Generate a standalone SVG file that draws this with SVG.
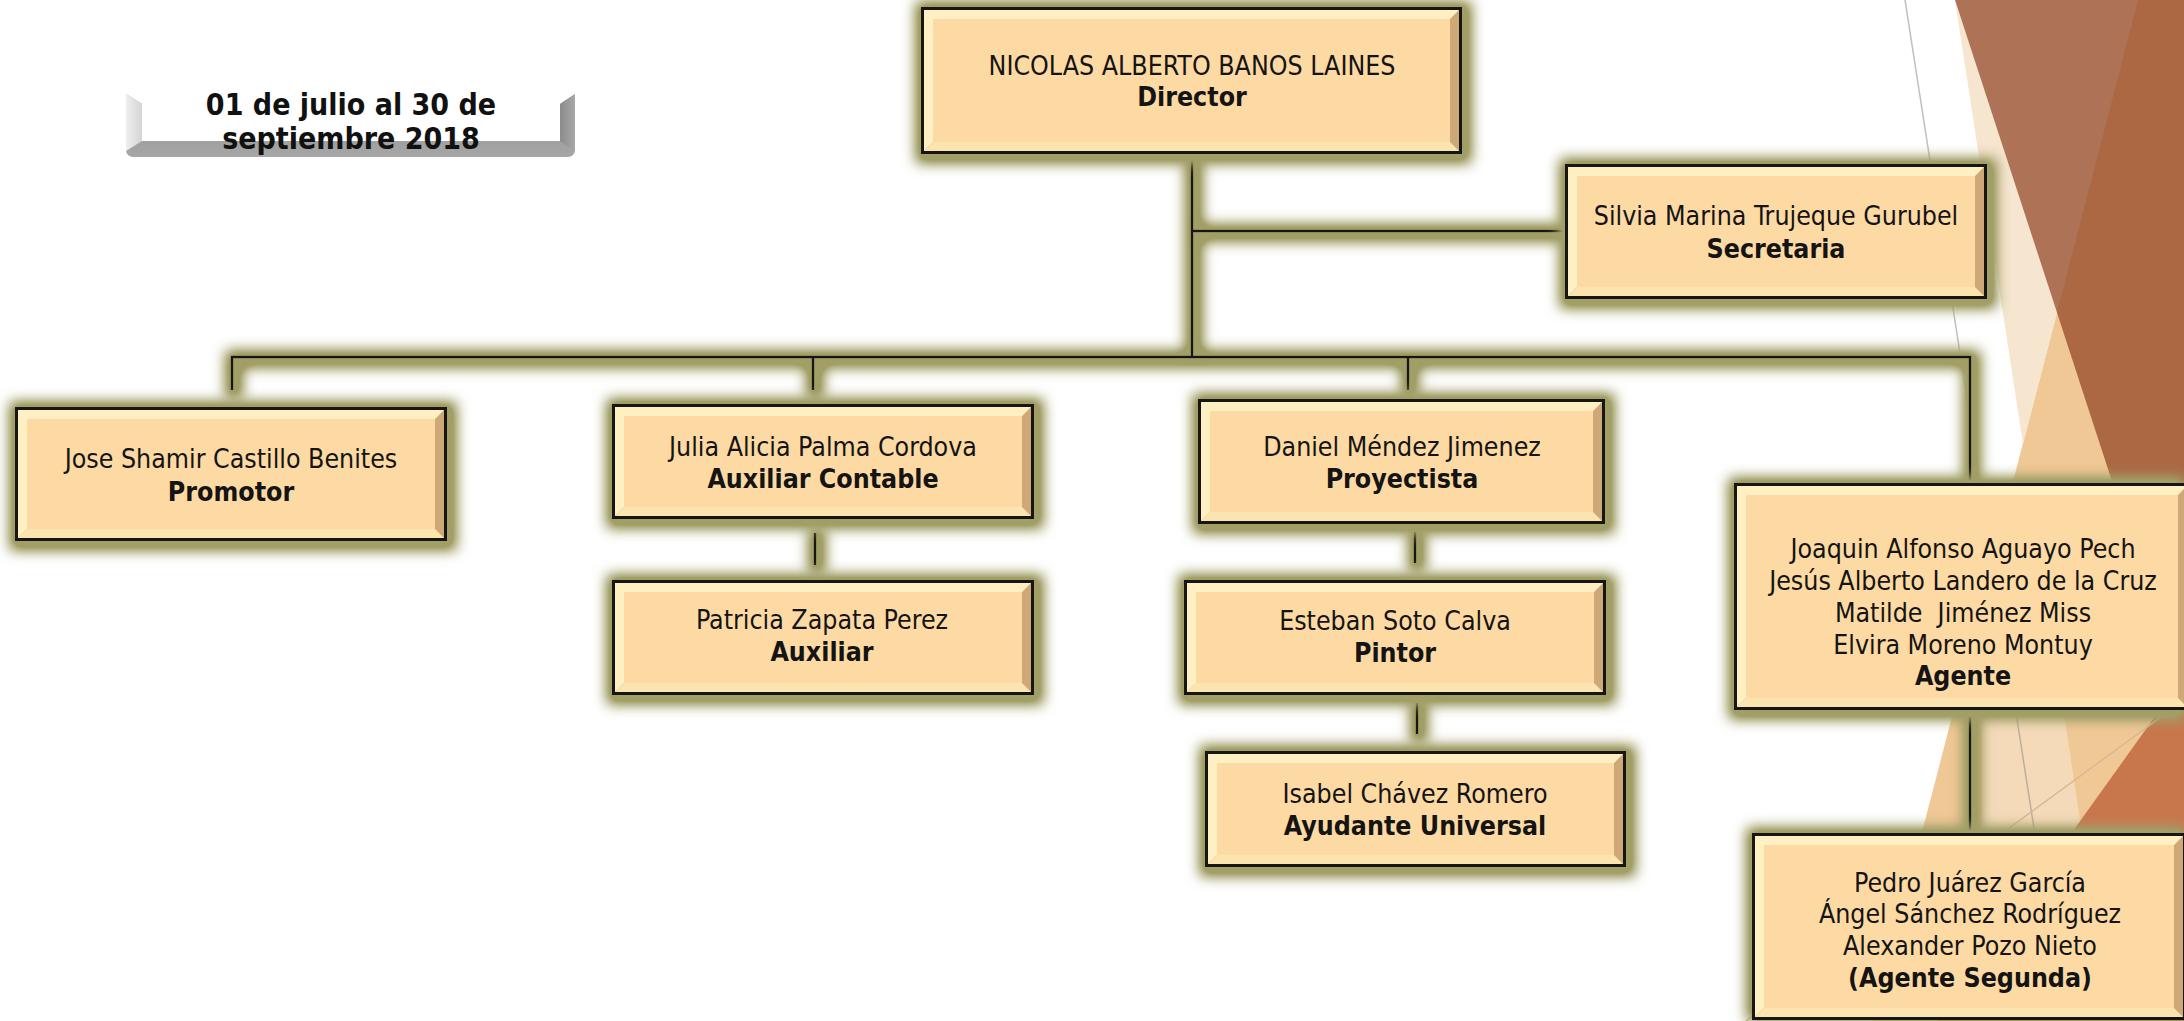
<svg xmlns="http://www.w3.org/2000/svg" width="2184" height="1021" viewBox="0 0 2184 1021">
<defs>
<style>
.t{font-family:'DejaVu Sans Condensed','DejaVu Sans',sans-serif;font-stretch:condensed;font-size:26.5px;fill:#141414;text-anchor:middle}
.b{font-weight:bold}
.d{font-family:'DejaVu Sans Condensed','DejaVu Sans',sans-serif;font-stretch:condensed;font-weight:bold;font-size:30px;fill:#111;text-anchor:middle}
.frame{fill:#161616}
.base{fill:#CFA877}
.tl{fill:#FFF0C4}
.bb{fill:#FBE4B0}
.face{fill:#FDDAA3}
.con{stroke:#151515;stroke-width:2.5;fill:none}
</style>
<filter id="glow" filterUnits="userSpaceOnUse" x="0" y="0" width="2184" height="1021">
<feMorphology in="SourceAlpha" operator="dilate" radius="7" result="d"/>
<feOffset in="d" dx="2" dy="2" result="o"/>
<feGaussianBlur in="o" stdDeviation="7" result="bl"/>
<feComponentTransfer in="bl" result="bl2"><feFuncA type="linear" slope="1.5"/></feComponentTransfer>
<feFlood flood-color="#A19E66" flood-opacity="1"/>
<feComposite in2="bl2" operator="in" result="g"/>
<feMerge><feMergeNode in="g"/><feMergeNode in="SourceGraphic"/></feMerge>
</filter>
<linearGradient id="gL" x1="0" y1="0" x2="1" y2="0">
<stop offset="0" stop-color="#EFEFEF"/><stop offset="1" stop-color="#D4D4D4"/>
</linearGradient>
<linearGradient id="gR" x1="0" y1="0" x2="1" y2="0">
<stop offset="0" stop-color="#8C8C8C"/><stop offset="1" stop-color="#A8A8A8"/>
</linearGradient>
<linearGradient id="gB" x1="0" y1="0" x2="0" y2="1">
<stop offset="0" stop-color="#8E8E8E"/><stop offset="1" stop-color="#A6A6A6"/>
</linearGradient>
</defs>

<g id="background">
<rect x="0" y="0" width="2184" height="1021" fill="#FFFFFF"/>
<polygon points="2138,0 2184,0 2184,1021 1873,1021" fill="#F0C896"/>
<polygon points="1955,0 2023,444 2057,313" fill="#F6E5CF"/>
<polygon points="1982,700 2062,700 2083,840 1982,840" fill="#F5DABA"/>
<polygon points="2184,676 2184,1021 1937,1021" fill="#C8764C"/>
<polygon points="1955,0 2184,0 2184,702" fill="#9A502D" fill-opacity="0.8"/>
<line x1="1905" y1="0" x2="2064" y2="1021" stroke="#8A8A8A" stroke-opacity="0.55" stroke-width="1.5"/>
<line x1="2184" y1="700" x2="1746" y2="1021" stroke="#D6B892" stroke-width="1.5"/>
</g>

<g id="date-banner">
<rect x="126" y="88" width="449" height="69" rx="7" fill="url(#gB)"/>
<polygon points="126,86 575,86 575,94 560,104 560,141 142,141 142,104 126,94" fill="#FFFFFF"/>
<polygon points="126,94 142,104 142,141 126,151" fill="url(#gL)"/>
<polygon points="575,94 560,104 560,141 575,151" fill="url(#gR)"/>
<text class="d" x="351" y="115">01 de julio al 30 de</text>
<text class="d" x="351" y="149">septiembre 2018</text>
</g>

<g id="connectors" filter="url(#glow)">
<path class="con" d="M1192 156 V357"/>
<path class="con" d="M1192 231 H1565"/>
<path class="con" d="M232 390 V357 H1970 V482"/>
<path class="con" d="M813 357 V390"/>
<path class="con" d="M1408 357 V390"/>
<path class="con" d="M815 533 V565"/>
<path class="con" d="M1415 532 V563"/>
<path class="con" d="M1417 703 V734"/>
<path class="con" d="M1970 710 V833"/>
</g>

<g id="node-director">
<rect class="frame" filter="url(#glow)" x="921" y="7" width="541" height="147"/>
<rect class="base" x="924" y="10" width="535" height="141"/>
<polygon class="tl" points="924,10 1459,10 1450,19 933,19 933,142 924,151"/>
<polygon class="bb" points="924,151 933,142 1450,142 1459,151"/>
<rect class="face" x="933" y="19" width="517" height="123"/>
<text class="t" x="1192" y="75">NICOLAS ALBERTO BANOS LAINES</text>
<text class="t b" x="1192" y="106">Director</text>
</g>

<g id="node-secretaria">
<rect class="frame" filter="url(#glow)" x="1565" y="164" width="422" height="135"/>
<rect class="base" x="1568" y="167" width="416" height="129"/>
<polygon class="tl" points="1568,167 1984,167 1975,176 1577,176 1577,287 1568,296"/>
<polygon class="bb" points="1568,296 1577,287 1975,287 1984,296"/>
<rect class="face" x="1577" y="176" width="398" height="111"/>
<text class="t" x="1776" y="225">Silvia Marina Trujeque Gurubel</text>
<text class="t b" x="1776" y="258">Secretaria</text>
</g>

<g id="node-promotor">
<rect class="frame" filter="url(#glow)" x="15" y="407" width="432" height="134"/>
<rect class="base" x="18" y="410" width="426" height="128"/>
<polygon class="tl" points="18,410 444,410 435,419 27,419 27,529 18,538"/>
<polygon class="bb" points="18,538 27,529 435,529 444,538"/>
<rect class="face" x="27" y="419" width="408" height="110"/>
<text class="t" x="231" y="468">Jose Shamir Castillo Benites</text>
<text class="t b" x="231" y="501">Promotor</text>
</g>

<g id="node-auxiliar-contable">
<rect class="frame" filter="url(#glow)" x="612" y="404" width="422" height="115"/>
<rect class="base" x="615" y="407" width="416" height="109"/>
<polygon class="tl" points="615,407 1031,407 1022,416 624,416 624,507 615,516"/>
<polygon class="bb" points="615,516 624,507 1022,507 1031,516"/>
<rect class="face" x="624" y="416" width="398" height="91"/>
<text class="t" x="823" y="456">Julia Alicia Palma Cordova</text>
<text class="t b" x="823" y="488">Auxiliar Contable</text>
</g>

<g id="node-auxiliar">
<rect class="frame" filter="url(#glow)" x="612" y="580" width="422" height="115"/>
<rect class="base" x="615" y="583" width="416" height="109"/>
<polygon class="tl" points="615,583 1031,583 1022,592 624,592 624,683 615,692"/>
<polygon class="bb" points="615,692 624,683 1022,683 1031,692"/>
<rect class="face" x="624" y="592" width="398" height="91"/>
<text class="t" x="822" y="629">Patricia Zapata Perez</text>
<text class="t b" x="822" y="661">Auxiliar</text>
</g>

<g id="node-proyectista">
<rect class="frame" filter="url(#glow)" x="1198" y="399" width="407" height="125"/>
<rect class="base" x="1201" y="402" width="401" height="119"/>
<polygon class="tl" points="1201,402 1602,402 1593,411 1210,411 1210,512 1201,521"/>
<polygon class="bb" points="1201,521 1210,512 1593,512 1602,521"/>
<rect class="face" x="1210" y="411" width="383" height="101"/>
<text class="t" x="1402" y="456">Daniel Méndez Jimenez</text>
<text class="t b" x="1402" y="488">Proyectista</text>
</g>

<g id="node-pintor">
<rect class="frame" filter="url(#glow)" x="1184" y="580" width="422" height="115"/>
<rect class="base" x="1187" y="583" width="416" height="109"/>
<polygon class="tl" points="1187,583 1603,583 1594,592 1196,592 1196,683 1187,692"/>
<polygon class="bb" points="1187,692 1196,683 1594,683 1603,692"/>
<rect class="face" x="1196" y="592" width="398" height="91"/>
<text class="t" x="1395" y="630">Esteban Soto Calva</text>
<text class="t b" x="1395" y="662">Pintor</text>
</g>

<g id="node-ayudante">
<rect class="frame" filter="url(#glow)" x="1205" y="751" width="421" height="116"/>
<rect class="base" x="1208" y="754" width="415" height="110"/>
<polygon class="tl" points="1208,754 1623,754 1614,763 1217,763 1217,855 1208,864"/>
<polygon class="bb" points="1208,864 1217,855 1614,855 1623,864"/>
<rect class="face" x="1217" y="763" width="397" height="92"/>
<text class="t" x="1415" y="803">Isabel Chávez Romero</text>
<text class="t b" x="1415" y="835">Ayudante Universal</text>
</g>

<g id="node-agente">
<rect class="frame" filter="url(#glow)" x="1734" y="483" width="456" height="227"/>
<rect class="base" x="1737" y="486" width="450" height="221"/>
<polygon class="tl" points="1737,486 2187,486 2178,495 1746,495 1746,698 1737,707"/>
<polygon class="bb" points="1737,707 1746,698 2178,698 2187,707"/>
<rect class="face" x="1746" y="495" width="432" height="203"/>
<text class="t" x="1963" y="558">Joaquin Alfonso Aguayo Pech</text>
<text class="t" x="1963" y="590">Jesús Alberto Landero de la Cruz</text>
<text class="t" x="1963" y="622" xml:space="preserve">Matilde  Jiménez Miss</text>
<text class="t" x="1963" y="654">Elvira Moreno Montuy</text>
<text class="t b" x="1963" y="685">Agente</text>
</g>

<g id="node-agente-segunda">
<rect class="frame" filter="url(#glow)" x="1752" y="833" width="434" height="187"/>
<rect class="base" x="1755" y="836" width="428" height="181"/>
<polygon class="tl" points="1755,836 2183,836 2174,845 1764,845 1764,1008 1755,1017"/>
<polygon class="bb" points="1755,1017 1764,1008 2174,1008 2183,1017"/>
<rect class="face" x="1764" y="845" width="410" height="163"/>
<text class="t" x="1970" y="892">Pedro Juárez García</text>
<text class="t" x="1970" y="923">Ángel Sánchez Rodríguez</text>
<text class="t" x="1970" y="955">Alexander Pozo Nieto</text>
<text class="t b" x="1970" y="987">(Agente Segunda)</text>
</g>
</svg>
